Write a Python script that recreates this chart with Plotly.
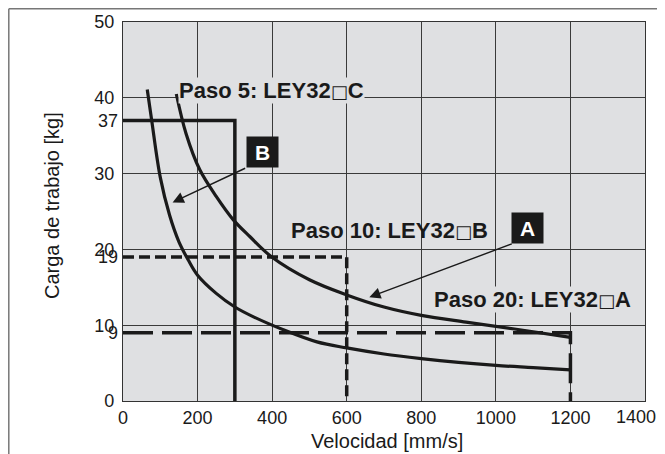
import plotly.graph_objects as go

# ---- data ----
step_names = ["Paso 5: LEY32", "Paso 10: LEY32", "Paso 20: LEY32"]
step_suffix = ["C", "B", "A"]
step_max_speed = [300, 600, 1200]      # mm/s
step_max_load = [37, 19, 9]            # kg

curve_b_speed = [65, 77, 100, 125, 150, 175, 200, 250, 300, 350, 430, 520, 600, 700, 800, 900, 1000, 1100, 1200]
curve_b_load = [41.1, 37.0, 29.5, 24.5, 21.0, 18.6, 16.6, 14.2, 12.4, 11.1, 9.4, 7.8, 7.0, 6.2, 5.6, 5.1, 4.7, 4.4, 4.1]

curve_a_speed = [143, 169, 206, 250, 296, 340, 399, 500, 600, 700, 800, 920, 1050, 1200]
curve_a_load = [40.5, 35.3, 30.5, 27.0, 23.9, 21.7, 19.0, 16.0, 14.0, 12.4, 11.3, 10.4, 9.5, 8.4]

x_ticks = [0, 200, 400, 600, 800, 1000, 1200, 1400]
x_tick_labels = ["0", "200", "400", "600", "800", "1000", "1200", "1400"]
y_ticks = [0, 10, 20, 30, 40, 50]
y_extra_ticks = [9, 19, 37]

FONT = "Liberation Sans, Arial, Helvetica, sans-serif"
BG = "#dfe0e2"
INK = "#1a1a1a"

# page offset of the figure inside the html body (8px default margin)
OFF = 8
W, H = 665 - OFF, 454 - OFF
PL, PR, PT, PB = 123 - OFF, 645 - OFF, 22 - OFF, 401 - OFF   # plot area in figure px
PW, PH = PR - PL, PB - PT


def px_to_paper(px, py):
    return (px - OFF - PL) / PW, (PB - (py - OFF)) / PH


fig = go.Figure()

dashes = ["solid", "11px,5px", "30px,9px"]
for i in range(3):
    fig.add_trace(go.Scatter(
        x=[0, step_max_speed[i], step_max_speed[i]],
        y=[step_max_load[i], step_max_load[i], 0],
        mode="lines", line=dict(color=INK, width=3.5, dash=dashes[i]),
        hoverinfo="skip", showlegend=False,
        yaxis="y2" if i == 0 else "y"))

fig.add_trace(go.Scatter(x=curve_b_speed, y=curve_b_load, mode="lines",
                         line=dict(color=INK, width=3.2, shape="spline"),
                         showlegend=False, name="B"))
fig.add_trace(go.Scatter(x=curve_a_speed, y=curve_a_load, mode="lines",
                         line=dict(color=INK, width=3.2, shape="spline"),
                         showlegend=False, name="A"))

SQ = "<span style=\"font-family:'DejaVu Sans'; font-weight:normal; font-size:18px\">\u25a1</span>"


def step_text(i):
    return "<b>" + step_names[i] + "</b>" + SQ + "<b>" + step_suffix[i] + "</b>"


annotations = []
annotations.append(dict(x=147.5, y=40.9, text=step_text(0), showarrow=False,
                        xanchor="left", yanchor="middle", bgcolor=BG, borderpad=0,
                        font=dict(family=FONT, size=22, color=INK)))
annotations.append(dict(x=448, y=22.5, text=step_text(1), showarrow=False,
                        xanchor="left", yanchor="middle", borderpad=0,
                        font=dict(family=FONT, size=22, color=INK)))
annotations.append(dict(x=831, y=13.45, text=step_text(2), showarrow=False,
                        xanchor="left", yanchor="middle", bgcolor=BG, borderpad=0,
                        font=dict(family=FONT, size=22, color=INK)))
# arrows
annotations.append(dict(x=133, y=26.2, ax=331.6, ay=30.8, axref="x", ayref="y", text="",
                        showarrow=True, arrowhead=2, arrowsize=1.6, arrowwidth=1.4, arrowcolor=INK))
annotations.append(dict(x=660.6, y=13.7, ax=1046.7, ay=20.8, axref="x", ayref="y", text="",
                        showarrow=True, arrowhead=2, arrowsize=1.6, arrowwidth=1.4, arrowcolor=INK))
# letter boxes
annotations.append(dict(x=373, y=32.8, text="<b>B</b>", showarrow=False, bgcolor=INK,
                        width=31, height=30, borderpad=0, xanchor="center", yanchor="middle",
                        font=dict(family=FONT, size=21, color="white")))
annotations.append(dict(x=1085.6, y=22.8, text="<b>A</b>", showarrow=False, bgcolor=INK,
                        width=31, height=30, borderpad=0, xanchor="center", yanchor="middle",
                        font=dict(family=FONT, size=21, color="white")))
# last x tick label, kept inside the frame as in the original
tx, ty = px_to_paper(657, 417)
annotations.append(dict(xref="paper", yref="paper", x=tx, y=ty, text=x_tick_labels[-1],
                        showarrow=False, xanchor="right", yanchor="middle", borderpad=0,
                        font=dict(family=FONT, size=18, color=INK)))
# axis titles
tx, ty = px_to_paper(387, 441)
annotations.append(dict(xref="paper", yref="paper", x=tx, y=ty,
                        text="Velocidad [mm/s]", showarrow=False, xanchor="center", yanchor="middle",
                        font=dict(family=FONT, size=20, color=INK)))
tx, ty = px_to_paper(52, 206)
annotations.append(dict(xref="paper", yref="paper", x=tx, y=ty,
                        text="Carga de trabajo [kg]", showarrow=False, textangle=-90,
                        xanchor="center", yanchor="middle",
                        font=dict(family=FONT, size=20, color=INK)))

fx0, fy_top = px_to_paper(8.8, 8.8)
fx1, fy_bot = px_to_paper(658, 470)
shapes = [
    dict(type="line", xref="paper", yref="paper", x0=fx0, x1=fx0,
         y0=fy_bot, y1=fy_top, line=dict(color="#777777", width=1.5)),
    dict(type="line", xref="paper", yref="paper", x0=fx0, x1=fx1,
         y0=fy_top, y1=fy_top, line=dict(color="#777777", width=1.5)),
]

axis_common = dict(showline=True, linecolor="#333333", linewidth=1.2, mirror=True,
                   gridcolor="#3a3a3a", gridwidth=1.1, zeroline=False, ticks="",
                   tickfont=dict(family=FONT, size=18, color=INK))

x_tick_text = x_tick_labels[:-1] + [""]

fig.update_layout(
    width=W, height=H,
    margin=dict(l=PL, r=W - PR, t=PT, b=H - PB, autoexpand=False),
    paper_bgcolor="white", plot_bgcolor=BG,
    showlegend=False,
    xaxis=dict(range=[0, 1400], tickvals=x_ticks, ticktext=x_tick_text, **axis_common),
    yaxis=dict(range=[0, 50], tickvals=y_ticks, ticklabelstandoff=4, **axis_common),
    yaxis2=dict(range=[0, 50], tickvals=y_extra_ticks, overlaying="y", side="left", anchor="x",
                showgrid=False, showline=False, zeroline=False, ticks="", ticklabelstandoff=4,
                tickfont=dict(family=FONT, size=18, color=INK)),
    annotations=annotations,
    shapes=shapes,
)

fig.write_html("out.html")
